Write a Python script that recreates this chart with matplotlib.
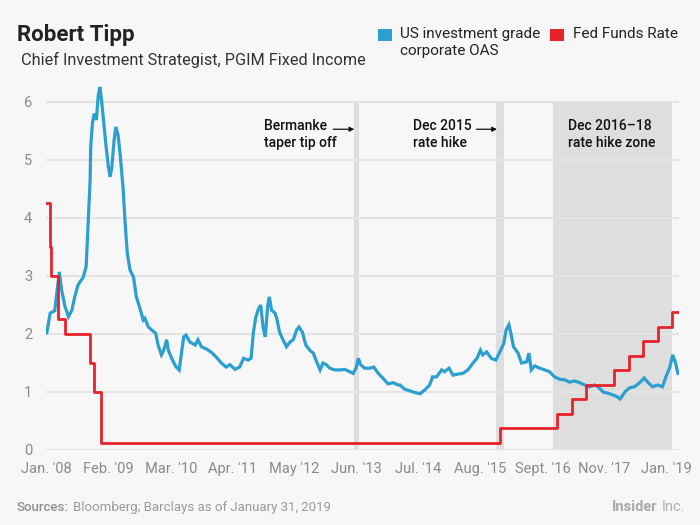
import matplotlib
matplotlib.use('Agg')
import matplotlib.pyplot as plt
import numpy as np

plt.rcParams['font.family'] = ['Roboto', 'DejaVu Sans']

# US investment grade corporate OAS, decimal years
oas_years = [2008.01, 2008.07, 2008.15, 2008.23, 2008.27, 2008.33, 2008.39, 2008.45, 2008.50, 2008.56,
             2008.65, 2008.70, 2008.73, 2008.77, 2008.78, 2008.81, 2008.84, 2008.88, 2008.91, 2008.94,
             2008.97, 2009.01, 2009.05, 2009.09, 2009.12, 2009.15, 2009.19, 2009.22, 2009.26, 2009.30,
             2009.35, 2009.38, 2009.42, 2009.47, 2009.53, 2009.58, 2009.64, 2009.70, 2009.73, 2009.79,
             2009.85, 2009.92, 2009.96, 2010.02, 2010.06, 2010.11, 2010.14, 2010.20, 2010.27, 2010.33,
             2010.37, 2010.41, 2010.45, 2010.52, 2010.61, 2010.66, 2010.72, 2010.81, 2010.90, 2010.99,
             2011.07, 2011.15, 2011.22, 2011.31, 2011.39, 2011.46, 2011.54, 2011.59, 2011.63, 2011.67,
             2011.71, 2011.76, 2011.80, 2011.84, 2011.88, 2011.91, 2011.95, 2012.01, 2012.04, 2012.09,
             2012.15, 2012.21, 2012.27, 2012.33, 2012.39, 2012.43, 2012.49, 2012.55, 2012.62, 2012.68,
             2012.74, 2012.80, 2012.85, 2012.91, 2012.97, 2013.06, 2013.15, 2013.23, 2013.32, 2013.38,
             2013.43, 2013.47, 2013.51, 2013.58, 2013.67, 2013.74, 2013.82, 2013.90, 2013.99, 2014.08,
             2014.17, 2014.20, 2014.28, 2014.37, 2014.46, 2014.55, 2014.63, 2014.72, 2014.77, 2014.84,
             2014.93, 2014.98, 2015.06, 2015.13, 2015.22, 2015.30, 2015.39, 2015.48, 2015.55, 2015.61,
             2015.65, 2015.72, 2015.80, 2015.88, 2015.95, 2016.02, 2016.06, 2016.11, 2016.15, 2016.19,
             2016.27, 2016.33, 2016.42, 2016.46, 2016.50, 2016.56, 2016.65, 2016.74, 2016.82, 2016.91,
             2017.00, 2017.09, 2017.17, 2017.26, 2017.35, 2017.44, 2017.52, 2017.61, 2017.67, 2017.76,
             2017.84, 2017.93, 2018.00, 2018.06, 2018.14, 2018.22, 2018.31, 2018.40, 2018.48, 2018.55,
             2018.63, 2018.72, 2018.80, 2018.86, 2018.93, 2018.98, 2019.03, 2019.07]
oas_values = [2.02, 2.36, 2.40, 3.07, 2.76, 2.47, 2.30, 2.41, 2.64, 2.85,
              2.98, 3.16, 3.79, 4.66, 5.23, 5.63, 5.80, 5.69, 6.09, 6.26,
              6.03, 5.63, 5.23, 4.88, 4.71, 4.88, 5.34, 5.57, 5.43, 5.05,
              4.48, 3.97, 3.40, 3.10, 2.98, 2.64, 2.45, 2.24, 2.27, 2.12,
              2.07, 2.01, 1.81, 1.64, 1.72, 1.90, 1.72, 1.58, 1.44, 1.38,
              1.67, 1.95, 1.98, 1.86, 1.81, 1.90, 1.78, 1.74, 1.68, 1.59,
              1.50, 1.43, 1.47, 1.39, 1.43, 1.58, 1.55, 1.58, 2.02, 2.27,
              2.41, 2.50, 2.12, 1.95, 2.47, 2.64, 2.41, 2.36, 2.27, 2.03,
              1.90, 1.78, 1.86, 1.90, 2.07, 2.12, 2.03, 1.81, 1.72, 1.67,
              1.52, 1.38, 1.50, 1.47, 1.41, 1.38, 1.38, 1.39, 1.35, 1.32,
              1.41, 1.58, 1.47, 1.41, 1.41, 1.43, 1.32, 1.24, 1.14, 1.16,
              1.12, 1.12, 1.05, 1.02, 0.99, 0.97, 1.03, 1.12, 1.26, 1.26,
              1.38, 1.35, 1.41, 1.29, 1.31, 1.32, 1.38, 1.50, 1.58, 1.72,
              1.64, 1.69, 1.58, 1.55, 1.69, 1.84, 2.07, 2.16, 1.98, 1.78,
              1.67, 1.50, 1.52, 1.67, 1.38, 1.45, 1.41, 1.38, 1.35, 1.26,
              1.22, 1.21, 1.17, 1.19, 1.16, 1.12, 1.09, 1.12, 1.09, 1.00,
              0.98, 0.95, 0.92, 0.88, 1.00, 1.07, 1.09, 1.16, 1.24, 1.16,
              1.09, 1.12, 1.09, 1.26, 1.43, 1.64, 1.50, 1.32]

# Fed funds rate (midpoint of target), changes at these dates
fed_years = [2008.00, 2008.06, 2008.08, 2008.21, 2008.33, 2008.77, 2008.83, 2008.96,
             2015.96, 2016.96, 2017.21, 2017.46, 2017.95, 2018.21, 2018.46, 2018.73,
             2018.97, 2019.08]
fed_values = [4.25, 3.50, 3.00, 2.25, 2.00, 1.50, 1.00, 0.125,
              0.375, 0.625, 0.875, 1.125, 1.375, 1.625, 1.875, 2.125,
              2.375, 2.375]

# shaded bands: (start, end)
bands = [(2013.39, 2013.48), (2015.89, 2016.02), (2016.89, 2018.96)]

tick_labels = ["Jan. '08", "Feb. '09", "Mar. '10", "Apr. '11", "May '12", "Jun. '13",
               "Jul. '14", "Aug. '15", "Sept. '16", "Nov. '17", "Jan. '19"]
y_ticks = [0, 1, 2, 3, 4, 5, 6]

BG = '#f7f7f7'
BLUE = '#2b9fcf'
RED = '#e8222b'
BAND = '#dedede'
GRAY = '#8a8a8a'
INK = '#111111'

fig = plt.figure(figsize=(7, 5.25), dpi=100, facecolor=BG)
ax = fig.add_axes([0.066, 0.1429, 0.904, 0.7015], facecolor=BG)

for y in y_ticks:
    ax.axhline(y, color='#e4e4e4', lw=1.5, zorder=1)
for x0, x1 in bands:
    ax.fill_between([x0, x1], 0, 6, color=BAND, lw=0, zorder=0.5)

ax.step(fed_years, fed_values, where='post', color=RED, lw=2.0, zorder=3)
ax.plot(oas_years, oas_values, color=BLUE, lw=2.3, zorder=2, solid_joinstyle='miter')

ax.set_xlim(2008.0, 2019.09)
ax.set_ylim(0, 6.35)
ax.set_yticks(y_ticks)
ax.set_yticklabels([str(v) for v in y_ticks])
ax.set_xticks(np.linspace(2008.01, 2018.87, len(tick_labels)))
ax.set_xticklabels(tick_labels)
ax.tick_params(length=0, labelsize=10.5, labelcolor=GRAY)
ax.tick_params(axis='y', pad=10)
ax.tick_params(axis='x', pad=9)
for s in ax.spines.values():
    s.set_visible(False)

# annotations
ann = dict(fontsize=10, fontweight='medium', color=INK, va='top', linespacing=1.2)
arrow = dict(arrowstyle='-|>', color=INK, lw=0.9, mutation_scale=7, shrinkA=0, shrinkB=0)
ax.text(2011.81, 5.70, 'Bermanke\ntaper tip off', **ann)
ax.annotate('', xy=(2013.40, 5.53), xytext=(2013.03, 5.53), arrowprops=arrow)
ax.text(2014.42, 5.70, 'Dec 2015\nrate hike', **ann)
ax.annotate('', xy=(2015.90, 5.53), xytext=(2015.54, 5.53), arrowprops=arrow)
ax.text(2017.14, 5.70, 'Dec 2016\u201318\nrate hike zone', **ann)

# header
fig.text(0.024, 0.922, 'Robert Tipp', fontsize=16, fontweight='bold', color='#222222')
fig.text(0.030, 0.877, 'Chief Investment Strategist, PGIM Fixed Income', fontsize=11.7, color='#333333')

# legend
fig.patches.append(plt.Rectangle((0.540, 0.922), 0.0200, 0.0230, transform=fig.transFigure,
                                 color=BLUE, lw=0))
fig.text(0.571, 0.949, 'US investment grade\ncorporate OAS', fontsize=11, color='#222222',
         va='top', linespacing=1.3)
fig.patches.append(plt.Rectangle((0.786, 0.922), 0.0200, 0.0230, transform=fig.transFigure,
                                 color=RED, lw=0))
fig.text(0.818, 0.949, 'Fed Funds Rate', fontsize=11, color='#222222', va='top')

# footer
fig.text(0.024, 0.027, 'Sources:', fontsize=9.5, color='#8f8f8f', fontweight='medium')
fig.text(0.104, 0.027, 'Bloomberg; Barclays as of January 31, 2019', fontsize=9.5, color='#9a9a9a')
fig.text(0.874, 0.027, 'Insider', fontsize=10.5, color='#a8a8a8', fontweight='bold')
fig.text(0.945, 0.027, 'Inc.', fontsize=10.5, color='#b0b0b0')

fig.savefig('out.png', dpi=100, facecolor=BG)
